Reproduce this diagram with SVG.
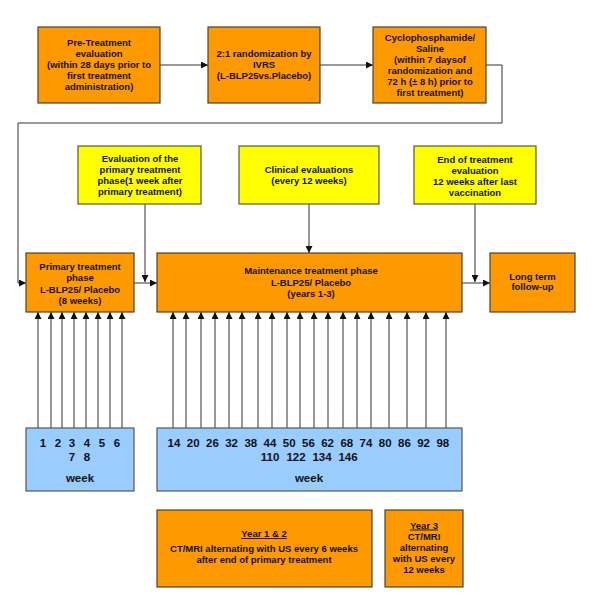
<svg xmlns="http://www.w3.org/2000/svg" width="600" height="607" viewBox="0 0 600 607">
<defs>
<marker id="ah" viewBox="0 0 10 10" refX="10" refY="5" markerWidth="7" markerHeight="7" markerUnits="userSpaceOnUse" orient="auto">
<path d="M0,0 L10,5 L0,10 z" fill="#111"/>
</marker>
<style>
.o{fill:#FF9900;stroke:#444;stroke-width:1.2}
.y{fill:#FFFF00;stroke:#555;stroke-width:1.2}
.b{fill:#99CCFF;stroke:#555;stroke-width:1.2}
text{font-family:"Liberation Sans",Arial,sans-serif;font-weight:bold;font-size:9.5px;fill:#111;text-anchor:middle}
.n{font-size:11.5px}
.u{text-decoration:underline}
.c{fill:none;stroke:#333;stroke-width:1}
.a{marker-end:url(#ah)}
</style>
</defs>
<rect width="600" height="607" fill="#fff"/>
<g id="connectors">
<line class="c a" x1="160" y1="65" x2="208" y2="65"/>
<line class="c a" x1="320" y1="65" x2="373" y2="65"/>
<polyline class="c a" points="486,65 502,65 502,123 18,123 18,283 26,283"/>
<line class="c a" x1="145" y1="204" x2="145" y2="282"/>
<line class="c a" x1="309" y1="204" x2="309" y2="253"/>
<line class="c a" x1="475" y1="204" x2="475" y2="282"/>
<line class="c a" x1="134" y1="283" x2="157" y2="283"/>
<line class="c a" x1="462" y1="283" x2="490" y2="283"/>
<g class="c a">
<line x1="38" y1="428" x2="38" y2="312"/>
<line x1="51" y1="428" x2="51" y2="312"/>
<line x1="62" y1="428" x2="62" y2="312"/>
<line x1="74" y1="428" x2="74" y2="312"/>
<line x1="86" y1="428" x2="86" y2="312"/>
<line x1="98" y1="428" x2="98" y2="312"/>
<line x1="110" y1="428" x2="110" y2="312"/>
<line x1="122" y1="428" x2="122" y2="312"/>
<line x1="173" y1="428" x2="173" y2="312"/>
<line x1="186" y1="428" x2="186" y2="312"/>
<line x1="201" y1="428" x2="201" y2="312"/>
<line x1="215" y1="428" x2="215" y2="312"/>
<line x1="229" y1="428" x2="229" y2="312"/>
<line x1="242" y1="428" x2="242" y2="312"/>
<line x1="258" y1="428" x2="258" y2="312"/>
<line x1="272" y1="428" x2="272" y2="312"/>
<line x1="287" y1="428" x2="287" y2="312"/>
<line x1="300" y1="428" x2="300" y2="312"/>
<line x1="314" y1="428" x2="314" y2="312"/>
<line x1="328" y1="428" x2="328" y2="312"/>
<line x1="343" y1="428" x2="343" y2="312"/>
<line x1="357" y1="428" x2="357" y2="312"/>
<line x1="371" y1="428" x2="371" y2="312"/>
<line x1="389" y1="428" x2="389" y2="312"/>
<line x1="407" y1="428" x2="407" y2="312"/>
<line x1="426" y1="428" x2="426" y2="312"/>
<line x1="446" y1="428" x2="446" y2="312"/>
</g>
</g>
<g id="pretreatment">
<rect class="o" x="38" y="27" width="122" height="76"/>
<text x="99" y="46">Pre-Treatment</text>
<text x="99" y="57">evaluation</text>
<text x="99" y="68">(within 28 days prior to</text>
<text x="99" y="79">first treatment</text>
<text x="99" y="90">administration)</text>
</g>
<g id="randomization">
<rect class="o" x="208" y="27" width="112" height="76"/>
<text x="264" y="57">2:1 randomization by</text>
<text x="264" y="68">IVRS</text>
<text x="264" y="79">(L-BLP25vs.Placebo)</text>
</g>
<g id="cyclophosphamide">
<rect class="o" x="373" y="27" width="113" height="76"/>
<text x="430" y="41">Cyclophosphamide/</text>
<text x="430" y="52">Saline</text>
<text x="430" y="63">(within 7 daysof</text>
<text x="430" y="74">randomization and</text>
<text x="430" y="85">72 h (± 8 h)  prior to</text>
<text x="430" y="96">first treatment)</text>
</g>
<g id="eval-primary">
<rect class="y" x="78" y="146" width="123" height="58"/>
<text x="140" y="162">Evaluation of the</text>
<text x="140" y="173">primary treatment</text>
<text x="140" y="184">phase(1 week after</text>
<text x="140" y="195">primary treatment)</text>
</g>
<g id="clinical-eval">
<rect class="y" x="239" y="146" width="140" height="58"/>
<text x="309" y="172.5">Clinical evaluations</text>
<text x="309" y="183.5">(every 12 weeks)</text>
</g>
<g id="end-eval">
<rect class="y" x="414" y="146" width="122" height="58"/>
<text x="475" y="163">End of treatment</text>
<text x="475" y="174">evaluation</text>
<text x="475" y="185">12 weeks after last</text>
<text x="475" y="196">vaccination</text>
</g>
<g id="primary-phase">
<rect class="o" x="26" y="253" width="108" height="59"/>
<text x="80" y="270">Primary treatment</text>
<text x="80" y="281">phase</text>
<text x="80" y="292.5">L-BLP25/  Placebo</text>
<text x="80" y="303.5">(8 weeks)</text>
</g>
<g id="maintenance-phase">
<rect class="o" x="157" y="253" width="305" height="59"/>
<text x="311" y="274">Maintenance treatment phase</text>
<text x="311" y="285.5">L-BLP25/  Placebo</text>
<text x="311" y="297">(years 1-3)</text>
</g>
<g id="long-term">
<rect class="o" x="490" y="253" width="85" height="59"/>
<text x="532.5" y="279.5">Long term</text>
<text x="532.5" y="290">follow-up</text>
</g>
<g id="weeks-primary">
<rect class="b" x="26" y="428" width="108" height="63"/>
<text class="n" y="447"><tspan x="43">1</tspan><tspan x="58">2</tspan><tspan x="72">3</tspan><tspan x="87">4</tspan><tspan x="102">5</tspan><tspan x="117">6</tspan></text>
<text class="n" y="461"><tspan x="72">7</tspan><tspan x="87">8</tspan></text>
<text class="n" x="80" y="482">week</text>
</g>
<g id="weeks-maintenance">
<rect class="b" x="157" y="428" width="305" height="63"/>
<text class="n" y="447"><tspan x="174">14</tspan><tspan x="193.2">20</tspan><tspan x="212.4">26</tspan><tspan x="231.6">32</tspan><tspan x="250.8">38</tspan><tspan x="270">44</tspan><tspan x="289.2">50</tspan><tspan x="308.4">56</tspan><tspan x="327.6">62</tspan><tspan x="346.8">68</tspan><tspan x="366">74</tspan><tspan x="385.2">80</tspan><tspan x="404.4">86</tspan><tspan x="423.6">92</tspan><tspan x="442.8">98</tspan></text>
<text class="n" y="461"><tspan x="270">110</tspan><tspan x="296">122</tspan><tspan x="322">134</tspan><tspan x="348">146</tspan></text>
<text class="n" x="309" y="482">week</text>
</g>
<g id="year12">
<rect class="o" x="157" y="510" width="215" height="77"/>
<text class="u" x="264" y="537">Year 1 &amp; 2</text>
<text x="264" y="552">CT/MRI alternating with US every 6 weeks</text>
<text x="264" y="563">after end of primary treatment</text>
</g>
<g id="year3">
<rect class="o" x="385" y="510" width="78" height="77"/>
<text class="u" x="424" y="528.5">Year 3</text>
<text x="424" y="539.5">CT/MRI</text>
<text x="424" y="551">alternating</text>
<text x="424" y="562">with US every</text>
<text x="424" y="573">12 weeks</text>
</g>
</svg>
